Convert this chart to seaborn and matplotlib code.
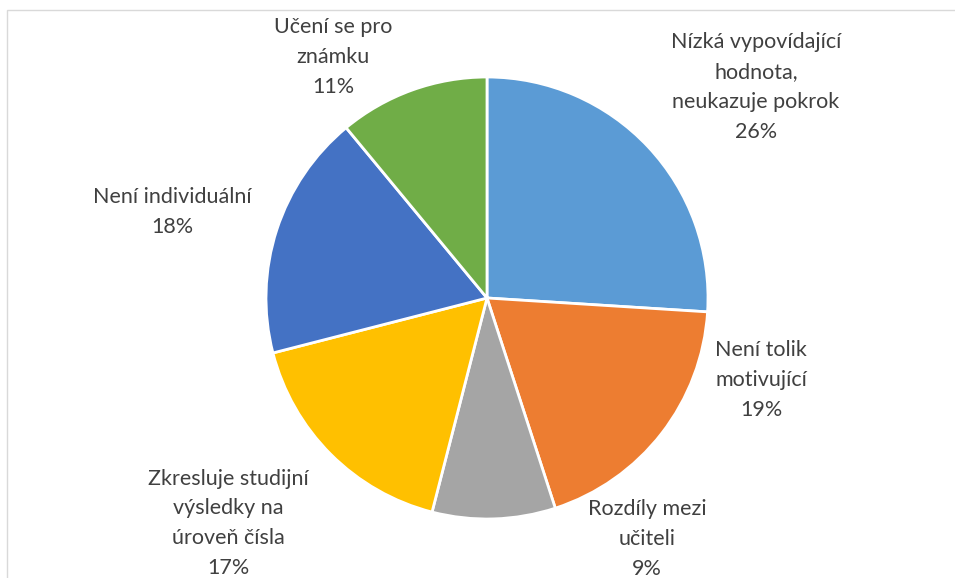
import matplotlib
matplotlib.use("Agg")
import matplotlib.pyplot as plt
import matplotlib.patches as patches
import seaborn as sns

# data (clockwise from 12 o'clock)
categories = ["Nízká vypovídající\nhodnota,\nneukazuje pokrok",
              "Není tolik\nmotivující",
              "Rozdíly mezi\nučiteli",
              "Zkresluje studijní\nvýsledky na\núroveň čísla",
              "Není individuální",
              "Učení se pro\nznámku"]
shares = [26, 19, 9, 17, 18, 11]
slice_colors = ["#5B9BD5", "#ED7D31", "#A5A5A5", "#FFC000", "#4472C4", "#70AD47"]

# label centres in units of the pie radius (Excel "best fit" placement)
label_pos = [(1.217, 0.955), (1.240, -0.371), (0.724, -1.090),
             (-1.172, -1.020), (-1.425, 0.389), (-0.697, 1.090)]

sns.set_theme(style="white")
plt.rcParams["font.family"] = ["Lato", "DejaVu Sans"]

W, H, dpi = 955, 578, 100
cx, cy, R = 487, 298, 221  # pie centre and radius in pixels

fig = plt.figure(figsize=(W / dpi, H / dpi), dpi=dpi)
ax = fig.add_axes([0, 0, 1, 1])

palette = sns.color_palette(slice_colors)
ax.pie(shares, colors=palette, startangle=90, counterclock=False, radius=1,
       wedgeprops=dict(edgecolor="white", linewidth=2))

# pie() resets the limits, so set them afterwards
ax.set_xlim(-cx / R, (W - cx) / R)
ax.set_ylim(-(H - cy) / R, cy / R)
ax.set_aspect("equal")
ax.axis("off")

for name, val, (x, y) in zip(categories, shares, label_pos):
    ax.text(x, y, f"{name}\n{val}%", ha="center", va="center", fontsize=15.5,
            color="#404040", linespacing=1.62)

# chart area border (Excel frame, cropped on the right and bottom)
fig.patches.append(patches.Rectangle((6.5 / W, -0.1), 1.1, 1.1 - 10.5 / H,
                                     transform=fig.transFigure, fill=False,
                                     edgecolor="#D9D9D9", linewidth=1))

fig.savefig("out.png", dpi=dpi)
